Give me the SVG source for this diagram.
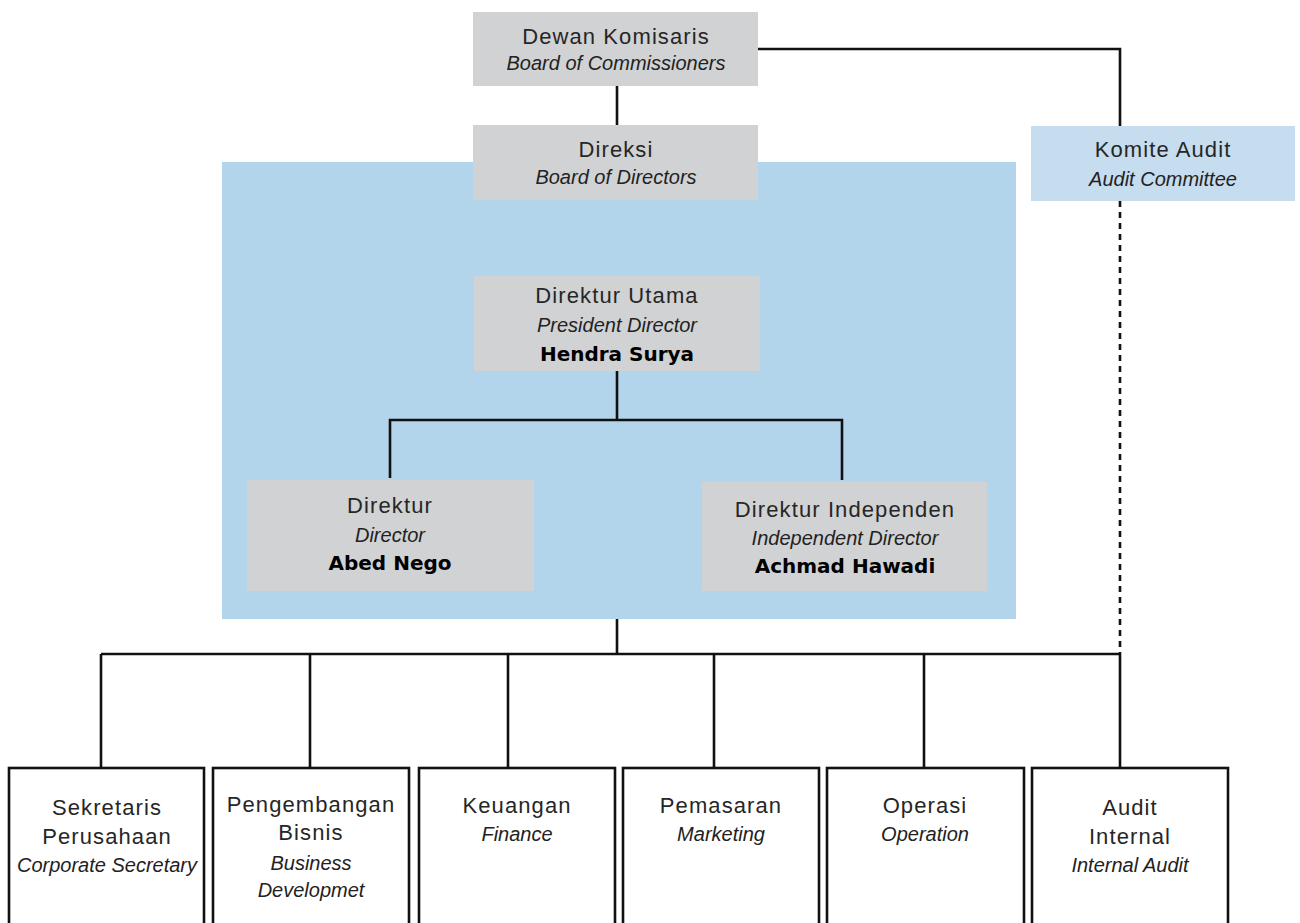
<svg xmlns="http://www.w3.org/2000/svg" width="1300" height="923" viewBox="0 0 1300 923">
<style>
.bg{fill:#ffffff}
.grey{fill:#d1d2d4}
.panel{fill:#b3d5eb}
.light{fill:#c6dcef}
.unit{fill:#ffffff;stroke:#111;stroke-width:2.6}
.ln{fill:none;stroke:#111;stroke-width:2.6}
.dash{fill:none;stroke:#111;stroke-width:2.6;stroke-dasharray:6 5}
text{text-anchor:middle;fill:#1c1c1c}
.r{font-family:"Liberation Sans",Arial,sans-serif;font-size:22px;letter-spacing:1.1px;fill:#262626}
.i{font-family:"Liberation Sans",Arial,sans-serif;font-size:20px;font-style:italic;fill:#222}
.b{font-family:"DejaVu Sans","Liberation Sans",sans-serif;font-size:20px;font-weight:bold;fill:#000}
</style>
<rect class="bg" x="0" y="0" width="1300" height="923"/>
<rect class="panel" x="222" y="162" width="794" height="457"/>
<g id="connectors">
<path class="ln" d="M617,86 V125"/>
<path class="ln" d="M758,49 H1120 V126"/>
<path class="dash" d="M1120,201 V654"/>
<path class="ln" d="M617,371 V420"/>
<path class="ln" d="M390,478 V420 H842 V480"/>
<path class="ln" d="M617,619 V654"/>
<path class="ln" d="M101,654 H1120"/>
<path class="ln" d="M101,654 V768 M310,654 V768 M508,654 V768 M714,654 V768 M924,654 V768 M1120,654 V768"/>
</g>
<g id="dewan-komisaris">
<rect class="grey" x="473" y="12" width="285" height="74"/>
<text class="r" x="616" y="44">Dewan Komisaris</text>
<text class="i" x="616" y="70">Board of Commissioners</text>
</g>
<g id="direksi">
<rect class="grey" x="473" y="125" width="285" height="75"/>
<text class="r" x="616" y="157">Direksi</text>
<text class="i" x="616" y="184">Board of Directors</text>
</g>
<g id="komite-audit">
<rect class="light" x="1031" y="126" width="264" height="75"/>
<text class="r" x="1163" y="157">Komite Audit</text>
<text class="i" x="1163" y="186">Audit Committee</text>
</g>
<g id="direktur-utama">
<rect class="grey" x="474" y="276" width="286" height="95"/>
<text class="r" x="617" y="303">Direktur Utama</text>
<text class="i" x="617" y="332">President Director</text>
<text class="b" x="617" y="361">Hendra Surya</text>
</g>
<g id="direktur">
<rect class="grey" x="247" y="480" width="287" height="111"/>
<text class="r" x="390" y="513">Direktur</text>
<text class="i" x="390" y="542">Director</text>
<text class="b" x="390" y="570">Abed Nego</text>
</g>
<g id="direktur-independen">
<rect class="grey" x="702" y="482" width="285" height="109"/>
<text class="r" x="845" y="517">Direktur Independen</text>
<text class="i" x="845" y="545">Independent Director</text>
<text class="b" x="845" y="573">Achmad Hawadi</text>
</g>
<g id="sekretaris-perusahaan">
<rect class="unit" x="9" y="768" width="195" height="170"/>
<text class="r" x="107" y="815">Sekretaris</text>
<text class="r" x="107" y="844">Perusahaan</text>
<text class="i" x="107" y="872">Corporate Secretary</text>
</g>
<g id="pengembangan-bisnis">
<rect class="unit" x="213" y="768" width="196" height="170"/>
<text class="r" x="311" y="812">Pengembangan</text>
<text class="r" x="311" y="840">Bisnis</text>
<text class="i" x="311" y="870">Business</text>
<text class="i" x="311" y="897">Developmet</text>
</g>
<g id="keuangan">
<rect class="unit" x="419" y="768" width="196" height="170"/>
<text class="r" x="517" y="813">Keuangan</text>
<text class="i" x="517" y="841">Finance</text>
</g>
<g id="pemasaran">
<rect class="unit" x="623" y="768" width="196" height="170"/>
<text class="r" x="721" y="813">Pemasaran</text>
<text class="i" x="721" y="841">Marketing</text>
</g>
<g id="operasi">
<rect class="unit" x="827" y="768" width="197" height="170"/>
<text class="r" x="925" y="813">Operasi</text>
<text class="i" x="925" y="841">Operation</text>
</g>
<g id="audit-internal">
<rect class="unit" x="1032" y="768" width="196" height="170"/>
<text class="r" x="1130" y="815">Audit</text>
<text class="r" x="1130" y="844">Internal</text>
<text class="i" x="1130" y="872">Internal Audit</text>
</g>
</svg>
